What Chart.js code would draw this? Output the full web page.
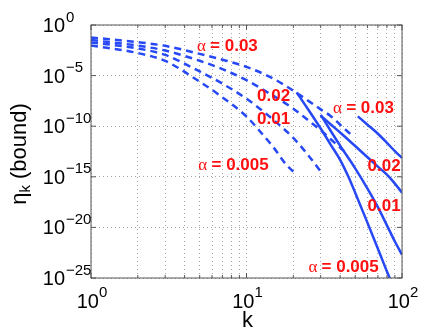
<!DOCTYPE html>
<html>
<head>
<meta charset="utf-8">
<script src="https://cdn.jsdelivr.net/npm/chart.js@4.4.0/dist/chart.umd.min.js"></script>
<style>
  html, body { margin: 0; padding: 0; background: #fff; }
  #wrap { width: 443px; height: 333px; }
</style>
</head>
<body>
<div id="wrap"><canvas id="etaChart" width="443" height="333"></canvas></div>
<script>
// dashed part of each bound (small k)
const kDash003 = [1, 2, 3, 5, 7, 10, 15, 20, 25, 30, 35, 40, 45, 48];
const etaDash003 = [5.9e-2, 2.0e-2, 8.7e-3, 1.4e-3, 3.7e-4, 7.2e-5, 4.7e-6, 3.2e-7, 3.2e-8, 4.6e-9, 9.3e-10, 1.4e-10, 2.7e-11, 1.1e-11];
const kDash002 = [1, 2, 3, 5, 7, 10, 15, 20, 25, 30, 35, 40, 45];
const etaDash002 = [3.3e-2, 9.1e-3, 3.0e-3, 2.9e-4, 4.4e-5, 3.5e-6, 9.3e-8, 5.4e-9, 3.7e-10, 4.0e-11, 4.8e-12, 7.6e-13, 1.5e-13];
const kDash001 = [1, 2, 3, 5, 7, 10, 15, 20, 25, 30];
const etaDash001 = [1.9e-2, 4.8e-3, 1.1e-3, 2.6e-5, 1.6e-6, 5.2e-8, 3.9e-10, 6.9e-12, 1.3e-13, 3.4e-15];
const kDash0005 = [1, 2, 3, 5, 7, 10, 12, 15, 18, 20];
const etaDash0005 = [9.3e-3, 1.7e-3, 2.8e-4, 2.5e-6, 7.2e-8, 9.1e-10, 4.2e-11, 7.2e-13, 1.6e-14, 3.2e-15];

// solid part of each bound (large k)
const kSolid003 = [52, 60, 70, 80, 90, 100];
const etaSolid003 = [9.3e-10, 1.4e-10, 1.8e-11, 2.3e-12, 3.4e-13, 7.4e-14];
const kSolid002 = [30, 35, 40, 50, 60, 70, 80, 90, 100];
const etaSolid002 = [1.1e-9, 1.4e-10, 2.4e-11, 1.1e-12, 8.5e-14, 1.0e-14, 1.6e-15, 2.1e-16, 2.7e-17];
const kSolid001 = [30, 35, 40, 50, 60, 70, 80, 90, 100];
const etaSolid001 = [1.3e-9, 3.0e-11, 1.2e-12, 6.9e-15, 6.9e-17, 1.0e-18, 1.6e-20, 4.0e-22, 2.0e-23];
const kSolid0005 = [21, 25, 30, 35, 40, 45, 50, 60, 70, 80, 85];
const etaSolid0005 = [2.2e-7, 4.2e-9, 5.9e-11, 1.3e-12, 4.8e-14, 1.2e-15, 2.7e-17, 2.8e-20, 7.9e-23, 4.4e-25, 5.0e-26];

// axes
const xGrid = [1, 2, 3, 4, 5, 6, 7, 8, 9, 10, 20, 30, 40, 50, 60, 70, 80, 90, 100];
const xMajor = [1, 10, 100];
const xTickExp = ['0', '1', '2'];
const yTicks = [1e0, 1e-5, 1e-10, 1e-15, 1e-20, 1e-25];
const yTickExp = ['0', '\u22125', '\u221210', '\u221215', '\u221220', '\u221225'];

// curve labels (greek prefix, text, anchor in data coords = left / middle)
const labelGreek = [true, false, false, true, true, false, false, true];
const labelText = ['= 0.03', '0.02', '0.01', '= 0.005', '= 0.03', '0.02', '0.01', '= 0.005'];
const labelK = [4.8, 11.7, 11.7, 4.9, 36, 60, 60, 25];
const labelEta = [1e-2, 1.2e-7, 5.8e-10, 1.7e-14, 7.9e-9, 1.5e-14, 1.7e-18, 1.6e-24];

const blue = 'rgb(38, 72, 245)';
const toXY = (ks, es) => ks.map((k, i) => ({ x: k, y: es[i] }));

function curve(ks, es, dashed) {
    return {
        data: toXY(ks, es),
        borderColor: blue,
        borderWidth: 2.5,
        borderDash: dashed ? [7, 5] : [],
        pointRadius: 0,
        fill: false,
        cubicInterpolationMode: 'monotone'
    };
}

const frame = {
    id: 'frame',
    afterDraw(chart) {
        const ctx = chart.ctx;
        const a = chart.chartArea;
        const xs = chart.scales.x, ys = chart.scales.y;
        ctx.save();

        // box and inward ticks
        ctx.strokeStyle = '#555';
        ctx.lineWidth = 1;
        ctx.beginPath();
        xGrid.forEach(v => {
            const px = xs.getPixelForValue(v);
            const len = xMajor.includes(v) ? 5 : 3;
            ctx.moveTo(px, a.bottom); ctx.lineTo(px, a.bottom - len);
            ctx.moveTo(px, a.top); ctx.lineTo(px, a.top + len);
        });
        yTicks.forEach(v => {
            const py = ys.getPixelForValue(v);
            ctx.moveTo(a.left, py); ctx.lineTo(a.left + 5, py);
            ctx.moveTo(a.right, py); ctx.lineTo(a.right - 5, py);
        });
        ctx.stroke();
        ctx.strokeRect(a.left, a.top, a.right - a.left, a.bottom - a.top);

        // tick labels
        ctx.fillStyle = '#000';
        ctx.textBaseline = 'alphabetic';
        yTicks.forEach((v, i) => {
            const py = ys.getPixelForValue(v);
            ctx.font = '20px "Liberation Sans"';
            ctx.textAlign = 'right';
            ctx.fillText('10', a.left - 26, py + 7);
            ctx.font = '15px "Liberation Sans"';
            ctx.textAlign = 'left';
            ctx.fillText(yTickExp[i], a.left - 25, py - 3.5);
        });
        xMajor.forEach((v, i) => {
            const px = xs.getPixelForValue(v);
            ctx.font = '20px "Liberation Sans"';
            const w1 = ctx.measureText('10').width;
            ctx.font = '15px "Liberation Sans"';
            const w2 = ctx.measureText(xTickExp[i]).width;
            const x0 = px - (w1 + w2) / 2 + 1;
            ctx.textAlign = 'left';
            ctx.font = '20px "Liberation Sans"';
            ctx.fillText('10', x0, a.bottom + 30);
            ctx.font = '15px "Liberation Sans"';
            ctx.fillText(xTickExp[i], x0 + w1, a.bottom + 19);
        });

        // axis titles
        ctx.font = '22px "Liberation Sans"';
        ctx.textAlign = 'center';
        ctx.fillText('k', xs.getPixelForValue(10) + 1, a.bottom + 49);

        ctx.save();
        ctx.translate(26, 154);
        ctx.rotate(-Math.PI / 2);
        ctx.textAlign = 'left';
        ctx.font = '22px "Liberation Sans"';
        const wa = ctx.measureText('\u03b7').width;
        const wc = ctx.measureText(' (bound)').width;
        ctx.font = '15px "Liberation Sans"';
        const wb = ctx.measureText('k').width;
        let sx = -(wa + wb + wc) / 2;
        ctx.font = '22px "Liberation Sans"';
        ctx.fillText('\u03b7', sx, 0);
        ctx.font = '15px "Liberation Sans"';
        ctx.fillText('k', sx + wa, 4);
        ctx.font = '22px "Liberation Sans"';
        ctx.fillText(' (bound)', sx + wa + wb, 0);
        ctx.restore();

        // red curve labels
        ctx.fillStyle = '#ff1010';
        ctx.textAlign = 'left';
        labelText.forEach((t, i) => {
            let x = xs.getPixelForValue(labelK[i]);
            const y = ys.getPixelForValue(labelEta[i]) + 6;
            if (labelGreek[i]) {
                ctx.font = '17px "Liberation Serif"';
                ctx.fillText('\u03b1', x, y);
                x += ctx.measureText('\u03b1 ').width;
            }
            ctx.font = 'bold 17px "Liberation Sans"';
            ctx.fillText(t, x, y);
        });
        ctx.restore();
    }
};

const etaCtx = document.getElementById('etaChart').getContext('2d');

const etaChart = new Chart(etaCtx, {
    type: 'line',
    data: {
        datasets: [
            curve(kDash003, etaDash003, true),
            curve(kDash002, etaDash002, true),
            curve(kDash001, etaDash001, true),
            curve(kDash0005, etaDash0005, true),
            curve(kSolid003, etaSolid003, false),
            curve(kSolid002, etaSolid002, false),
            curve(kSolid001, etaSolid001, false),
            curve(kSolid0005, etaSolid0005, false)
        ]
    },
    options: {
        responsive: false,
        animation: false,
        devicePixelRatio: 1,
        layout: { padding: { left: 91, top: 25, right: 41, bottom: 55 } },
        plugins: { legend: { display: false }, tooltip: { enabled: false } },
        scales: {
            x: {
                type: 'logarithmic',
                min: 1,
                max: 100,
                afterBuildTicks: s => { s.ticks = xGrid.map(v => ({ value: v })); },
                ticks: { display: false },
                grid: { color: '#a8a8a8', drawTicks: false },
                border: { display: false, dash: [1, 3] }
            },
            y: {
                type: 'logarithmic',
                min: 1e-25,
                max: 1,
                afterBuildTicks: s => { s.ticks = yTicks.map(v => ({ value: v })); },
                ticks: { display: false },
                grid: { color: '#a8a8a8', drawTicks: false },
                border: { display: false, dash: [1, 3] }
            }
        }
    },
    plugins: [frame]
});
</script>
</body>
</html>
